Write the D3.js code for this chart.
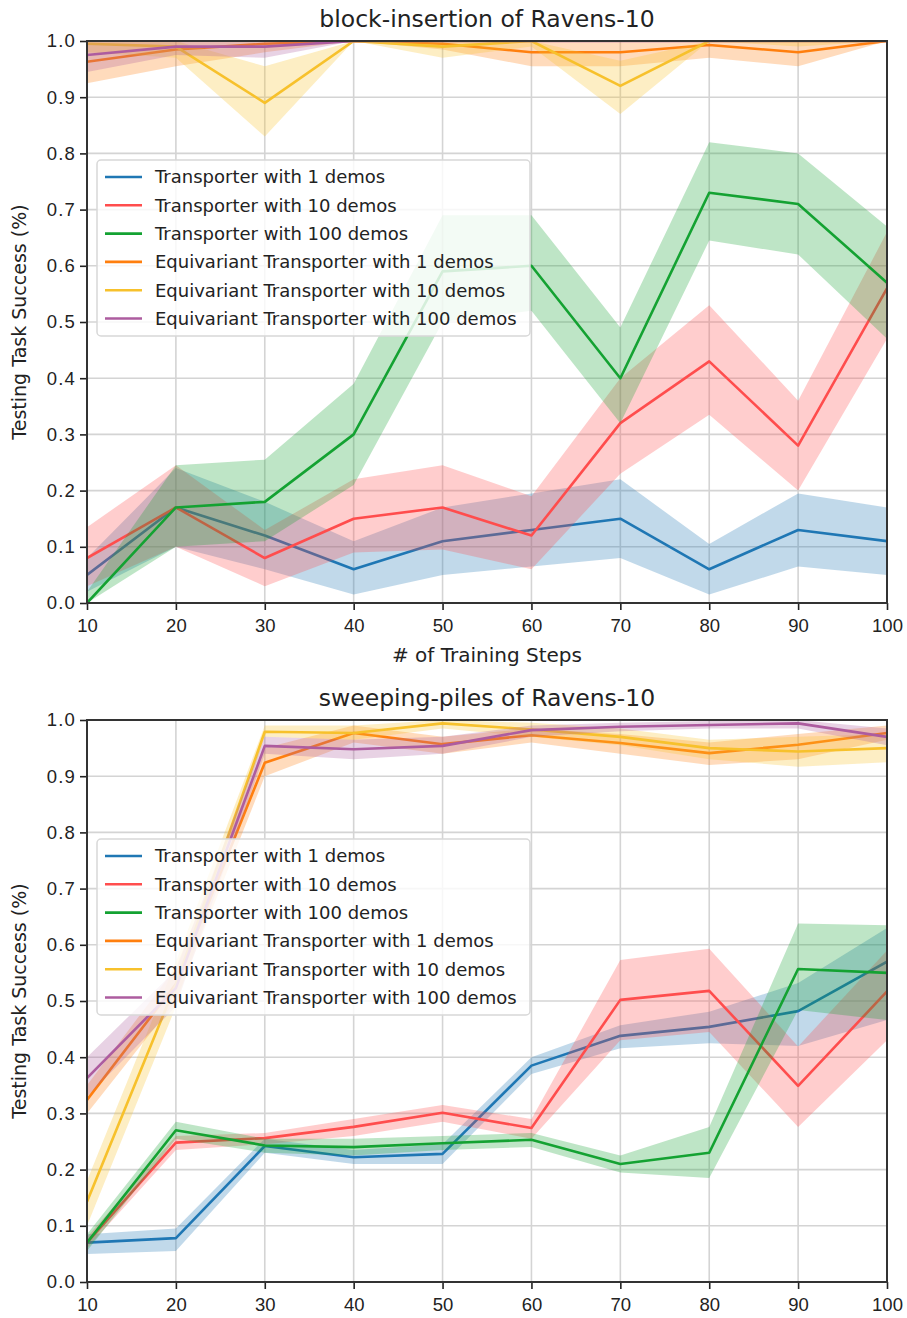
<!DOCTYPE html>
<html>
<head>
<meta charset="utf-8">
<script src="https://cdn.jsdelivr.net/npm/d3@7"></script>
<style>
  body { margin: 0; background: #fff; }
  svg { display: block; font-family: "DejaVu Sans", sans-serif; }
</style>
</head>
<body>
<div id="chart"></div>
<script>
const steps = [10, 20, 30, 40, 50, 60, 70, 80, 90, 100];
const yTicks = [0, 0.1, 0.2, 0.3, 0.4, 0.5, 0.6, 0.7, 0.8, 0.9, 1.0];
const seriesNames = [
  "Transporter with 1 demos",
  "Transporter with 10 demos",
  "Transporter with 100 demos",
  "Equivariant Transporter with 1 demos",
  "Equivariant Transporter with 10 demos",
  "Equivariant Transporter with 100 demos",
];
const seriesColors = ["#1f77b4", "#ff4d4d", "#14a232", "#ff7f0e", "#f7c12c", "#ad5c9f"];

// block-insertion of Ravens-10
const blockMean = [
  [0.05, 0.17, 0.12, 0.06, 0.11, 0.13, 0.15, 0.06, 0.13, 0.11],
  [0.08, 0.17, 0.08, 0.15, 0.17, 0.12, 0.32, 0.43, 0.28, 0.56],
  [0.00, 0.17, 0.18, 0.30, 0.59, 0.60, 0.40, 0.73, 0.71, 0.57],
  [0.963, 0.985, 0.995, 1.0, 0.995, 0.98, 0.98, 0.993, 0.98, 1.0],
  [0.995, 0.99, 0.89, 1.0, 0.99, 1.0, 0.92, 1.0, 1.0, 1.0],
  [0.975, 0.99, 0.99, 1.0, 1.0, 1.0, 1.0, 1.0, 1.0, 1.0],
];
const blockLow = [
  [0.02, 0.10, 0.06, 0.015, 0.05, 0.065, 0.08, 0.015, 0.065, 0.05],
  [0.03, 0.10, 0.03, 0.09, 0.095, 0.06, 0.23, 0.335, 0.20, 0.47],
  [0.00, 0.10, 0.11, 0.21, 0.50, 0.52, 0.32, 0.645, 0.62, 0.47],
  [0.925, 0.955, 0.98, 1.0, 0.985, 0.955, 0.955, 0.97, 0.955, 1.0],
  [0.98, 0.97, 0.83, 1.0, 0.97, 0.99, 0.87, 1.0, 0.99, 1.0],
  [0.945, 0.975, 0.97, 1.0, 1.0, 1.0, 1.0, 1.0, 1.0, 1.0],
];
const blockHigh = [
  [0.08, 0.24, 0.18, 0.11, 0.17, 0.195, 0.22, 0.105, 0.195, 0.17],
  [0.135, 0.245, 0.13, 0.22, 0.245, 0.19, 0.40, 0.53, 0.36, 0.66],
  [0.02, 0.245, 0.255, 0.39, 0.69, 0.69, 0.49, 0.82, 0.80, 0.67],
  [1.0, 1.0, 1.0, 1.0, 1.0, 1.0, 1.0, 1.0, 1.0, 1.0],
  [1.0, 1.0, 0.955, 1.0, 1.0, 1.0, 0.965, 1.0, 1.0, 1.0],
  [1.0, 1.0, 1.0, 1.0, 1.0, 1.0, 1.0, 1.0, 1.0, 1.0],
];

// sweeping-piles of Ravens-10
const sweepMean = [
  [0.07, 0.078, 0.242, 0.222, 0.228, 0.385, 0.438, 0.454, 0.482, 0.57],
  [0.07, 0.248, 0.256, 0.276, 0.301, 0.274, 0.502, 0.518, 0.349, 0.517],
  [0.07, 0.27, 0.243, 0.24, 0.247, 0.253, 0.21, 0.23, 0.557, 0.55],
  [0.324, 0.53, 0.924, 0.977, 0.957, 0.973, 0.959, 0.941, 0.956, 0.977],
  [0.143, 0.53, 0.979, 0.977, 0.994, 0.983, 0.97, 0.95, 0.944, 0.95],
  [0.363, 0.523, 0.954, 0.948, 0.954, 0.982, 0.988, 0.991, 0.994, 0.97],
];
const sweepLow = [
  [0.05, 0.055, 0.23, 0.21, 0.21, 0.37, 0.416, 0.425, 0.42, 0.466],
  [0.06, 0.235, 0.245, 0.26, 0.285, 0.255, 0.43, 0.445, 0.276, 0.43],
  [0.055, 0.255, 0.23, 0.225, 0.235, 0.24, 0.195, 0.185, 0.484, 0.466],
  [0.30, 0.50, 0.90, 0.96, 0.94, 0.96, 0.94, 0.92, 0.93, 0.965],
  [0.10, 0.49, 0.97, 0.965, 0.985, 0.97, 0.955, 0.93, 0.917, 0.925],
  [0.33, 0.49, 0.94, 0.93, 0.94, 0.97, 0.98, 0.985, 0.985, 0.955],
];
const sweepHigh = [
  [0.085, 0.095, 0.255, 0.235, 0.245, 0.40, 0.457, 0.481, 0.532, 0.63],
  [0.08, 0.26, 0.265, 0.29, 0.315, 0.29, 0.573, 0.593, 0.419, 0.59],
  [0.085, 0.285, 0.255, 0.255, 0.26, 0.265, 0.225, 0.276, 0.638, 0.635],
  [0.35, 0.56, 0.95, 0.99, 0.97, 0.985, 0.975, 0.96, 0.975, 0.99],
  [0.18, 0.57, 0.99, 0.99, 1.0, 0.995, 0.985, 0.965, 0.97, 0.975],
  [0.40, 0.555, 0.97, 0.965, 0.97, 0.99, 0.995, 0.998, 1.0, 0.985],
];

const width = 907;
const height = 1318;

const svg = d3.select("#chart").append("svg")
  .attr("width", width)
  .attr("height", height)
  .attr("viewBox", `0 0 ${width} ${height}`);

function drawPanel(opts) {
  const { top, bottom, title, mean, low, high, xLabel, id } = opts;
  const left = 87, right = 887;

  const x = d3.scaleLinear().domain([10, 100]).range([left, right]);
  const y = d3.scaleLinear().domain([0, 1]).range([bottom, top]);

  const g = svg.append("g");

  g.append("clipPath").attr("id", id)
    .append("rect")
    .attr("x", left).attr("y", top)
    .attr("width", right - left).attr("height", bottom - top);

  // grid
  g.append("g")
    .selectAll("line")
    .data(steps)
    .join("line")
    .attr("x1", (d) => x(d)).attr("x2", (d) => x(d))
    .attr("y1", top).attr("y2", bottom)
    .attr("stroke", "#d4d4d4").attr("stroke-width", 1.6);
  g.append("g")
    .selectAll("line")
    .data(yTicks)
    .join("line")
    .attr("x1", left).attr("x2", right)
    .attr("y1", (d) => y(d)).attr("y2", (d) => y(d))
    .attr("stroke", "#d4d4d4").attr("stroke-width", 1.6);

  const area = d3.area()
    .x((d) => x(d.s))
    .y0((d) => y(d.lo))
    .y1((d) => y(d.hi));
  const line = d3.line()
    .x((d) => x(d.s))
    .y((d) => y(d.v));

  const plot = g.append("g").attr("clip-path", `url(#${id})`);
  mean.forEach((vals, i) => {
    const rows = steps.map((s, j) => ({ s, v: vals[j], lo: low[i][j], hi: high[i][j] }));
    plot.append("path")
      .attr("d", area(rows))
      .attr("fill", seriesColors[i])
      .attr("fill-opacity", 0.28)
      .attr("stroke", "none");
    plot.append("path")
      .attr("d", line(rows))
      .attr("fill", "none")
      .attr("stroke", seriesColors[i])
      .attr("stroke-width", 2.6)
      .attr("stroke-linejoin", "round");
  });

  // axes
  const axisX = d3.axisBottom(x).tickValues(steps).tickSize(7).tickPadding(5);
  const axisY = d3.axisLeft(y).tickValues(yTicks).tickFormat(d3.format(".1f")).tickSize(7).tickPadding(4);

  const gx = g.append("g").attr("transform", `translate(0,${bottom})`).call(axisX);
  const gy = g.append("g").attr("transform", `translate(${left},0)`).call(axisY);
  [gx, gy].forEach((a) => {
    a.select(".domain").remove();
    a.selectAll(".tick line").attr("stroke", "#222").attr("stroke-width", 1.6);
    a.selectAll(".tick text").attr("fill", "#222").style("font-size", "18.5px");
  });
  gx.selectAll(".tick text").attr("dy", "0.9em");
  gy.selectAll(".tick text").style("letter-spacing", "1.2px");

  g.append("rect")
    .attr("x", left).attr("y", top)
    .attr("width", right - left).attr("height", bottom - top)
    .attr("fill", "none").attr("stroke", "#333").attr("stroke-width", 2);

  g.append("text")
    .attr("x", (left + right) / 2).attr("y", top - 14)
    .attr("text-anchor", "middle")
    .attr("fill", "#222")
    .style("font-size", "23.5px")
    .text(title);

  g.append("text")
    .attr("transform", `translate(26,${(top + bottom) / 2}) rotate(-90)`)
    .attr("text-anchor", "middle")
    .attr("fill", "#222")
    .style("font-size", "19px")
    .text("Testing Task Success (%)");

  if (xLabel) {
    g.append("text")
      .attr("x", (left + right) / 2).attr("y", bottom + 59)
      .attr("text-anchor", "middle")
      .attr("fill", "#222")
      .style("font-size", "20px")
      .text(xLabel);
  }

  // legend
  const lx = 97, ly = top + 119, rowH = 28.3;
  const legend = g.append("g").attr("transform", `translate(${lx},${ly})`);
  legend.append("rect")
    .attr("width", 433).attr("height", 176)
    .attr("rx", 4)
    .attr("fill", "#fff").attr("fill-opacity", 0.82)
    .attr("stroke", "#d8d8d8").attr("stroke-width", 1.5);
  seriesNames.forEach((name, i) => {
    const row = legend.append("g").attr("transform", `translate(0,${17 + i * rowH})`);
    row.append("line")
      .attr("x1", 8).attr("x2", 45)
      .attr("stroke", seriesColors[i]).attr("stroke-width", 2.6);
    row.append("text")
      .attr("x", 58).attr("dy", "0.35em")
      .attr("fill", "#222")
      .style("font-size", "18px")
      .text(name);
  });
}

drawPanel({
  id: "clipTop", top: 41, bottom: 603,
  title: "block-insertion of Ravens-10",
  mean: blockMean, low: blockLow, high: blockHigh,
  xLabel: "# of Training Steps",
});

drawPanel({
  id: "clipBottom", top: 720, bottom: 1282,
  title: "sweeping-piles of Ravens-10",
  mean: sweepMean, low: sweepLow, high: sweepHigh,
  xLabel: null,
});
</script>
</body>
</html>
